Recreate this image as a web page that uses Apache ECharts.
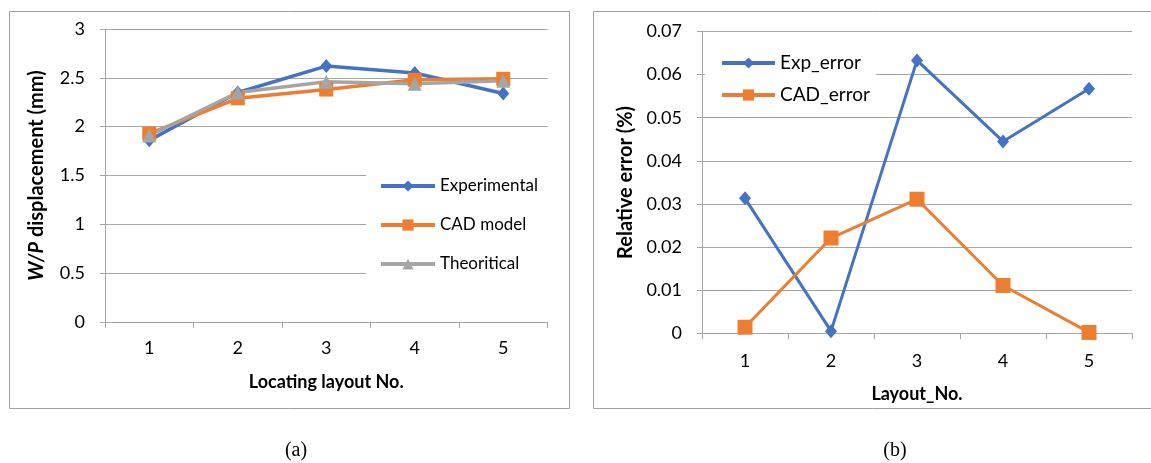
<!DOCTYPE html>
<html>
<head>
<meta charset="utf-8">
<script src="https://cdn.jsdelivr.net/npm/echarts@6/dist/echarts.min.js"></script>
<style>
html,body{margin:0;padding:0;background:#fff;}
#main{width:1151px;height:463px;}
</style>
</head>
<body>
<div id="main"></div>
<script>
// ---- data ----
const layoutsA = ['1', '2', '3', '4', '5'];
const experimental = [1.86, 2.35, 2.62, 2.55, 2.34];
const cadModel = [1.93, 2.29, 2.38, 2.48, 2.49];
const theoretical = [1.91, 2.35, 2.46, 2.44, 2.47];

const layoutsB = ['1', '2', '3', '4', '5'];
const expError = [0.0313, 0.0005, 0.0633, 0.0445, 0.0567];
const cadError = [0.0014, 0.0221, 0.0311, 0.0111, 0.0002];

const captions = ['(a)', '(b)'];

// ---- style ----
const FONT = 'Lato, "Open Sans", sans-serif';
const GRIDC = '#a6a6a6';
const BLUE = '#4472C4', ORANGE = '#ED7D31', GREY = '#A5A5A5';

const chart = echarts.init(document.getElementById('main'), null, {renderer: 'canvas'});

function catAxis(idx, data, margin, name, gap) {
  return {
    type: 'category', gridIndex: idx, data: data, boundaryGap: true,
    axisLine: {show: true, lineStyle: {color: GRIDC, width: 1}},
    axisTick: {show: true, length: 6, inside: false, lineStyle: {color: GRIDC}},
    axisLabel: {color: '#000', fontSize: 18, fontFamily: FONT, margin: margin},
    name: name, nameLocation: 'middle', nameGap: gap,
    nameTextStyle: {color: '#000', fontSize: 18, fontWeight: 'bold', fontFamily: FONT}
  };
}

chart.setOption({
  animation: false,
  backgroundColor: '#fff',
  grid: [
    {left: 105, top: 29, width: 442.5, height: 293},
    {left: 702, top: 31.5, width: 430, height: 301.8}
  ],
  xAxis: [
    catAxis(0, layoutsA, 17, 'Locating layout No.', 51),
    catAxis(1, layoutsB, 19, 'Layout_No.', 52)
  ],
  yAxis: [
    {
      type: 'value', gridIndex: 0, min: 0, max: 3, interval: 0.5,
      axisLine: {show: true, lineStyle: {color: GRIDC}},
      axisTick: {show: true, length: 5, lineStyle: {color: GRIDC}},
      splitLine: {show: true, lineStyle: {color: GRIDC, width: 1}},
      axisLabel: {color: '#000', fontSize: 18, fontFamily: FONT, margin: 20},
      name: '{i|W/P}{n| displacement (mm)}', nameLocation: 'middle', nameGap: 58,
      nameTextStyle: {
        rich: {
          i: {fontSize: 20, fontWeight: 'bold', fontStyle: 'italic', fontFamily: FONT, color: '#000'},
          n: {fontSize: 20, fontWeight: 'bold', fontFamily: FONT, color: '#000'}
        }
      }
    },
    {
      type: 'value', gridIndex: 1, min: 0, max: 0.07, interval: 0.01,
      axisLine: {show: true, lineStyle: {color: GRIDC}},
      axisTick: {show: true, length: 5, lineStyle: {color: GRIDC}},
      splitLine: {show: true, lineStyle: {color: GRIDC, width: 1}},
      axisLabel: {color: '#000', fontSize: 18, fontFamily: FONT, margin: 20,
        formatter: v => (Math.round(v * 100) / 100).toString()},
      name: 'Relative error (%)', nameLocation: 'middle', nameGap: 66,
      nameTextStyle: {color: '#000', fontSize: 20, fontWeight: 'bold', fontFamily: FONT}
    }
  ],
  legend: [
    {
      data: ['Experimental', 'CAD model', 'Theoritical'],
      orient: 'vertical', left: 366, top: 160,
      padding: [16, 12, 16, 13], itemGap: 19, itemWidth: 54, itemHeight: 14,
      backgroundColor: '#fff',
      lineStyle: {width: 4},
      textStyle: {color: '#000', fontSize: 17, fontFamily: FONT, lineHeight: 20}
    },
    {
      data: ['Exp_error', 'CAD_error'],
      orient: 'vertical', left: 705, top: 45,
      padding: [8, 6, 8, 15], itemGap: 12, itemWidth: 53, itemHeight: 14,
      backgroundColor: '#fff',
      lineStyle: {width: 4},
      textStyle: {color: '#000', fontSize: 19, fontFamily: FONT, lineHeight: 20}
    }
  ],
  series: [
    {name: 'Experimental', type: 'line', xAxisIndex: 0, yAxisIndex: 0, data: experimental,
      color: BLUE, lineStyle: {width: 3.5}, symbol: 'diamond', symbolSize: [12, 14]},
    {name: 'CAD model', type: 'line', xAxisIndex: 0, yAxisIndex: 0, data: cadModel,
      color: ORANGE, lineStyle: {width: 3.5}, symbol: 'rect', symbolSize: 14},
    {name: 'Theoritical', type: 'line', xAxisIndex: 0, yAxisIndex: 0, data: theoretical,
      color: GREY, lineStyle: {width: 3.5}, symbol: 'triangle', symbolSize: 14},
    {name: 'Exp_error', type: 'line', xAxisIndex: 1, yAxisIndex: 1, data: expError,
      color: BLUE, lineStyle: {width: 3}, symbol: 'diamond', symbolSize: [12, 14]},
    {name: 'CAD_error', type: 'line', xAxisIndex: 1, yAxisIndex: 1, data: cadError,
      color: ORANGE, lineStyle: {width: 3}, symbol: 'rect', symbolSize: 15}
  ],
  graphic: [
    {type: 'rect', shape: {x: 9.5, y: 11.5, width: 560, height: 397},
      style: {fill: null, stroke: '#a0a0a0', lineWidth: 1}, z: -1, silent: true},
    {type: 'rect', shape: {x: 593.5, y: 11.5, width: 600, height: 397},
      style: {fill: null, stroke: '#a0a0a0', lineWidth: 1}, z: -1, silent: true},
    {type: 'text', x: 296, y: 451, style: {text: captions[0], fill: '#000',
      font: '20px "Liberation Serif", "Times New Roman", serif', textAlign: 'center', textVerticalAlign: 'middle'}},
    {type: 'text', x: 895, y: 451, style: {text: captions[1], fill: '#000',
      font: '20px "Liberation Serif", "Times New Roman", serif', textAlign: 'center', textVerticalAlign: 'middle'}}
  ]
});
</script>
</body>
</html>
